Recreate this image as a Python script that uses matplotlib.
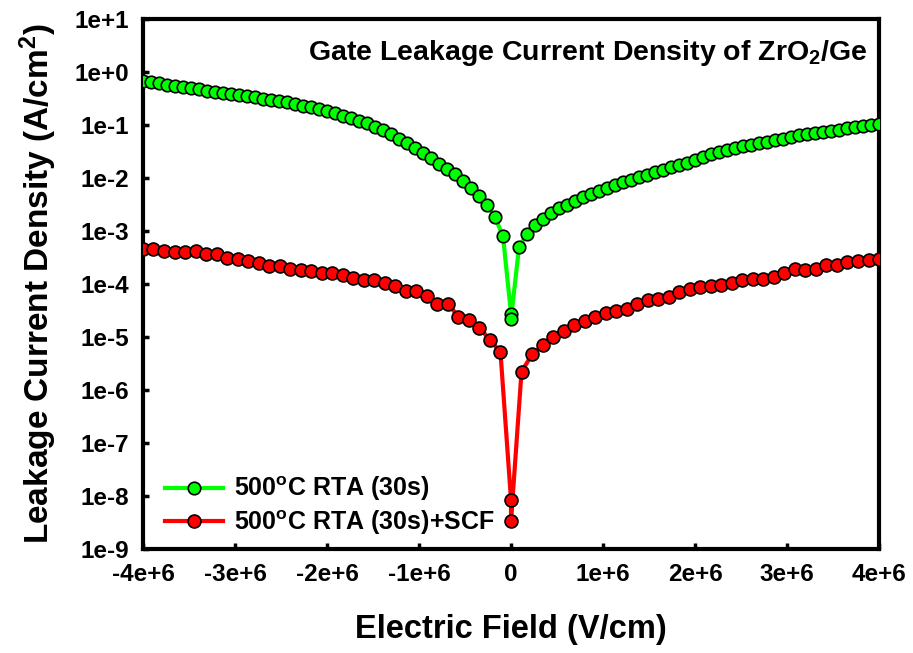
import numpy as np
import matplotlib

matplotlib.use("Agg")
import matplotlib.pyplot as plt  # noqa: E402
from matplotlib.ticker import FixedLocator, NullLocator  # noqa: E402

# Electric field sweep: each branch runs from 0 out to +/-4 MV/cm
green_field_left = np.linspace(-4e6, 0, 47)
green_field_right = np.linspace(0, 4e6, 47)
red_field_left = np.linspace(-4e6, 0, 36)
red_field_right = np.linspace(0, 4e6, 36)

# Leakage current density (A/cm^2), 500C RTA (30s)
green_j_left = [
    0.673, 0.635, 0.608, 0.565, 0.541, 0.511, 0.490, 0.468, 0.442, 0.423,
    0.405, 0.382, 0.366, 0.350, 0.331, 0.316, 0.295, 0.282, 0.266, 0.244,
    0.229, 0.214, 0.200, 0.182, 0.166, 0.148, 0.136, 0.120, 0.107, 0.0920,
    0.0794, 0.0670, 0.0556, 0.0459, 0.0376, 0.0302, 0.0243, 0.0187, 0.0151,
    0.0117, 0.00877, 0.00646, 0.00457, 0.00316, 0.00182, 0.000794, 2.75e-5,
]
green_j_right = [
    2.2e-5, 4.90e-4, 8.91e-4, 1.29e-3, 1.70e-3, 2.19e-3, 2.66e-3, 3.16e-3,
    3.72e-3, 4.37e-3, 5.01e-3, 5.75e-3, 6.53e-3, 7.33e-3, 8.32e-3, 9.23e-3,
    1.04e-2, 1.16e-2, 1.29e-2, 1.43e-2, 1.58e-2, 1.74e-2, 1.95e-2, 2.16e-2,
    2.45e-2, 2.82e-2, 3.09e-2, 3.35e-2, 3.67e-2, 3.98e-2, 4.27e-2, 4.57e-2,
    4.84e-2, 5.13e-2, 5.56e-2, 6.03e-2, 6.46e-2, 6.76e-2, 7.08e-2, 7.41e-2,
    7.76e-2, 8.22e-2, 8.71e-2, 9.12e-2, 9.66e-2, 0.100, 0.1035,
]

# Leakage current density (A/cm^2), 500C RTA (30s)+SCF
red_j_left = [
    4.62e-4, 4.49e-4, 4.17e-4, 3.98e-4, 3.98e-4, 4.11e-4, 3.72e-4, 3.72e-4,
    3.13e-4, 2.90e-4, 2.66e-4, 2.47e-4, 2.19e-4, 2.19e-4, 1.95e-4, 1.80e-4,
    1.74e-4, 1.60e-4, 1.60e-4, 1.45e-4, 1.29e-4, 1.17e-4, 1.17e-4, 1.04e-4,
    8.97e-5, 7.31e-5, 7.24e-5, 5.81e-5, 4.23e-5, 4.23e-5, 2.43e-5, 2.10e-5,
    1.48e-5, 8.91e-6, 5.13e-6, 8.4e-9,
]
red_j_right = [
    3.4e-9, 2.22e-6, 4.68e-6, 6.92e-6, 9.89e-6, 1.29e-5, 1.66e-5, 2.04e-5,
    2.43e-5, 2.82e-5, 3.05e-5, 3.39e-5, 4.22e-5, 5.01e-5, 5.13e-5, 5.62e-5,
    7.00e-5, 8.13e-5, 8.71e-5, 8.97e-5, 9.66e-5, 1.05e-4, 1.17e-4, 1.22e-4,
    1.22e-4, 1.35e-4, 1.62e-4, 1.88e-4, 1.80e-4, 1.94e-4, 2.24e-4, 2.31e-4,
    2.58e-4, 2.66e-4, 2.78e-4, 2.90e-4,
]

x_ticks = [-4e6, -3e6, -2e6, -1e6, 0, 1e6, 2e6, 3e6, 4e6]
x_tick_labels = ["-4e+6", "-3e+6", "-2e+6", "-1e+6", "0",
                 "1e+6", "2e+6", "3e+6", "4e+6"]
y_ticks = [1e-9, 1e-8, 1e-7, 1e-6, 1e-5, 1e-4, 1e-3, 1e-2, 1e-1, 1e0, 1e1]
y_tick_labels = ["1e-9", "1e-8", "1e-7", "1e-6", "1e-5", "1e-4",
                 "1e-3", "1e-2", "1e-1", "1e+0", "1e+1"]

plt.rcParams["font.family"] = ["Liberation Sans", "DejaVu Sans"]
plt.rcParams["font.weight"] = "bold"
plt.rcParams["axes.labelweight"] = "bold"
plt.rcParams["mathtext.fontset"] = "custom"
plt.rcParams["mathtext.rm"] = "Liberation Sans:bold"
plt.rcParams["mathtext.bf"] = "Liberation Sans:bold"
plt.rcParams["mathtext.default"] = "rm"

fig = plt.figure(figsize=(9.13, 6.53), dpi=100)
ax = fig.add_axes([0.1566, 0.1593, 0.8062, 0.8116])

ax.plot(np.concatenate([green_field_left, green_field_right]),
        green_j_left + green_j_right,
        color="#00ff00", lw=3, marker="o", ms=9, mfc="#00ff00",
        mec="black", mew=1.2, label="500$^{o}$C RTA (30s)", zorder=3)
ax.plot(np.concatenate([red_field_left, red_field_right]),
        red_j_left + red_j_right,
        color="#ff0000", lw=3, marker="o", ms=9.3, mfc="#ff0000",
        mec="black", mew=1.2, label="500$^{o}$C RTA (30s)+SCF", zorder=3)

ax.set_yscale("log")
ax.set_xlim(-4e6, 4e6)
ax.set_ylim(1e-9, 1e1)
ax.xaxis.set_major_locator(FixedLocator(x_ticks))
ax.set_xticklabels(x_tick_labels, fontweight="bold")
ax.yaxis.set_major_locator(FixedLocator(y_ticks))
ax.set_yticklabels(y_tick_labels, fontweight="bold")
ax.xaxis.set_minor_locator(NullLocator())
ax.yaxis.set_minor_locator(NullLocator())
ax.tick_params(direction="in", length=4, width=2.5, labelsize=17.5, pad=10,
               top=False, right=False)
for spine in ax.spines.values():
    spine.set_linewidth(3)

ax.set_xlabel("Electric Field (V/cm)", fontsize=23.5, fontweight="bold",
              labelpad=20)
ax.set_ylabel("Leakage Current Density (A/cm$^{2}$)", fontsize=24,
              fontweight="bold", labelpad=11)

ax.text(0.985, 0.965, "Gate Leakage Current Density of ZrO$_{2}$/Ge",
        transform=ax.transAxes, ha="right", va="top", fontsize=20.5,
        fontweight="bold")

ax.legend(loc="lower left", bbox_to_anchor=(0.0, -0.02), frameon=False,
          prop={"size": 18, "weight": "bold"}, handlelength=2.3,
          handletextpad=0.45, labelspacing=0.2)

fig.savefig("out.png", dpi=100)
